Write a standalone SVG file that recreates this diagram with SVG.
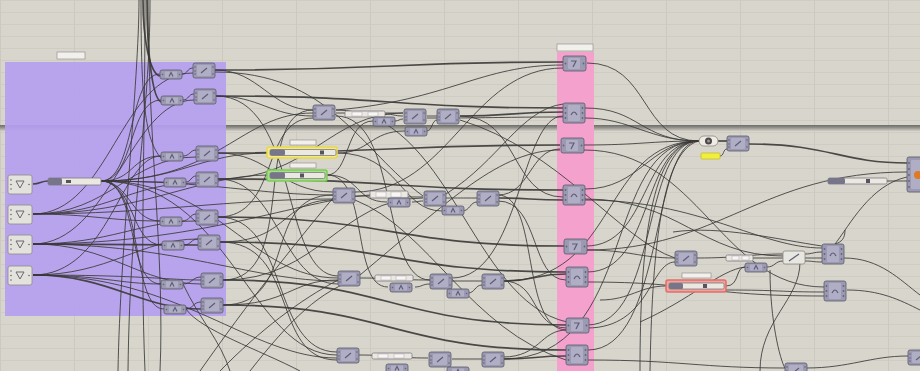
<svg xmlns="http://www.w3.org/2000/svg" xmlns:xlink="http://www.w3.org/1999/xlink" width="920" height="371" viewBox="0 0 920 371">
<style>
.w{fill:none;stroke:#3a3836;stroke-width:1;opacity:.85}
.wt{fill:none;stroke:#3a3836;stroke-width:1.7;opacity:.9}
.nb{fill:#9c9ab2;stroke:#5b5968;stroke-width:.8}
.ni{fill:#b0aec4;stroke:none}
.ic{fill:none;stroke:#5e5c78;stroke-width:1.2}
.pd{fill:#66647a}
.inp{fill:#e4e2dc;stroke:#8e8c86;stroke-width:.8}
.sl{fill:#ebe8e2;stroke:#7c7a80;stroke-width:.8}
.sll{fill:#77758a}
.lab{fill:#f2f0ec;stroke:#8a8882;stroke-width:.6}
</style>
<defs>
<pattern id="grid" width="74" height="12" patternUnits="userSpaceOnUse">
<rect width="74" height="12" fill="#d8d5cd"/>
<path d="M0,0.5 H74" stroke="#cfccc4" stroke-width="1"/>
<path d="M0.5,0 V12" stroke="#ccc9c1" stroke-width="1"/>
</pattern>
<linearGradient id="band" x1="0" y1="0" x2="0" y2="1">
<stop offset="0" stop-color="#6e6c68"/>
<stop offset="0.4" stop-color="#8f8d88"/>
<stop offset="1" stop-color="#cfccc4"/>
</linearGradient>
<g id="big"><rect width="22" height="15" rx="2" class="nb"/><rect x="4" y="2" width="14" height="11" rx="1" class="ni"/><path d="M8,10 L14,5" class="ic"/><circle cx="2" cy="4" r=".8" class="pd"/><circle cx="2" cy="8" r=".8" class="pd"/><circle cx="2" cy="11" r=".8" class="pd"/><circle cx="20" cy="4" r=".8" class="pd"/><circle cx="20" cy="11" r=".8" class="pd"/></g>
<g id="small"><rect width="22" height="9" rx="2" class="nb"/><rect x="5" y="1.5" width="12" height="6" class="ni"/><path d="M9,6.5 L11,2.5 L13,6.5" class="ic"/><circle cx="2.5" cy="4.5" r=".8" class="pd"/><circle cx="19.5" cy="4.5" r=".8" class="pd"/></g>
<g id="tall"><rect width="22" height="20" rx="2" class="nb"/><rect x="5" y="2" width="12" height="16" rx="1" class="ni"/><path d="M8,12 Q11,6 14,12" class="ic"/><circle cx="2.5" cy="5" r=".9" class="pd"/><circle cx="2.5" cy="10" r=".9" class="pd"/><circle cx="2.5" cy="15" r=".9" class="pd"/><circle cx="19.5" cy="5" r=".9" class="pd"/><circle cx="19.5" cy="10" r=".9" class="pd"/><circle cx="19.5" cy="15" r=".9" class="pd"/></g>
<g id="seven"><rect width="23" height="15" rx="2" class="nb"/><rect x="5" y="2" width="12" height="11" rx="1" class="ni"/><path d="M8,5 H13 L10,11" class="ic"/><circle cx="2.5" cy="7.5" r=".9" class="pd"/><circle cx="20.5" cy="7.5" r=".9" class="pd"/></g>
<g id="inp"><rect width="24" height="19" rx="2" class="inp"/><path d="M8,6 H16 L12,13 Z" fill="none" stroke="#6a6870" stroke-width="1"/><circle cx="3" cy="5" r=".8" class="pd"/><circle cx="3" cy="9.5" r=".8" class="pd"/><circle cx="3" cy="14" r=".8" class="pd"/><circle cx="21" cy="9.5" r=".8" class="pd"/></g>
</defs>

<rect width="920" height="371" fill="url(#grid)"/>
<rect x="0" y="125" width="920" height="6" fill="url(#band)"/>

<g id="group-purple">
<rect x="5" y="62" width="221" height="254" fill="#b59ff0" opacity=".92"/>
<rect x="57" y="52" width="28" height="7" class="lab"/>
</g>
<g id="group-pink">
<rect x="557" y="52" width="37" height="319" fill="#f4a2cd"/>
<rect x="557" y="44" width="36" height="7" class="lab"/>
</g>

<g id="connectors">
<path class="wt" d="M33,184 C40,184 41,181 48,181"/>
<path class="w" d="M101,181 C135,181 128,74 160,74"/>
<path class="w" d="M101,181 C135,181 128,100 161,100"/>
<path class="w" d="M101,181 C135,181 130,156 161,156"/>
<path class="w" d="M101,181 C130,181 135,182 164,182"/>
<path class="w" d="M101,181 C130,181 130,221 160,221"/>
<path class="w" d="M101,181 C135,181 130,245 162,245"/>
<path class="w" d="M101,181 C140,181 125,284 161,284"/>
<path class="w" d="M101,181 C145,181 130,309 164,309"/>
<path class="w" d="M101,181 C220,181 240,113 313,113"/>
<path class="w" d="M101,181 C210,181 260,195 333,195"/>
<path class="w" d="M101,181 C220,181 250,278 338,278"/>
<path class="w" d="M101,181 C230,181 250,355 337,355"/>
<path class="w" d="M101,181 C180,181 200,153 268,153"/>
<path class="w" d="M33,214 C110,214 120,73 193,73"/>
<path class="w" d="M33,214 C110,214 130,157 196,157"/>
<path class="w" d="M33,214 C90,214 110,221 160,221"/>
<path class="w" d="M33,214 C110,214 130,183 196,183"/>
<path class="w" d="M33,214 C150,214 230,199 333,199"/>
<path class="w" d="M33,214 C140,214 200,175 268,175"/>
<path class="wt" d="M33,244 C100,244 140,245 198,245"/>
<path class="w" d="M33,244 C110,244 130,100 194,100"/>
<path class="w" d="M33,244 C110,244 140,284 201,284"/>
<path class="w" d="M33,244 C110,244 140,221 196,221"/>
<path class="w" d="M33,244 C180,244 250,281 338,281"/>
<path class="w" d="M33,244 C200,244 300,200 370,195"/>
<path class="wt" d="M33,275 C110,275 140,309 201,309"/>
<path class="w" d="M33,275 C100,275 120,284 161,284"/>
<path class="w" d="M33,275 C110,275 140,239 198,239"/>
<path class="w" d="M33,275 C110,275 120,156 161,156"/>
<path class="w" d="M33,275 C180,275 250,358 337,358"/>
<path class="w" d="M33,275 C140,275 170,280 201,280"/>
<path class="w" d="M182,74 C188,74 187,68 193,68"/>
<path class="w" d="M183,100 C189,100 188,94 194,94"/>
<path class="w" d="M183,156 C190,156 190,150 196,150"/>
<path class="w" d="M186,182 C191,182 191,176 196,176"/>
<path class="w" d="M182,221 C190,221 190,214 196,214"/>
<path class="w" d="M184,245 C191,245 191,239 198,239"/>
<path class="w" d="M183,284 C192,284 192,277 201,277"/>
<path class="w" d="M186,309 C193,309 193,302 201,302"/>
<path class="wt" d="M143,0 C143,40 150,74 160,76"/>
<path class="wt" d="M147,0 C147,50 152,98 161,102"/>
<path class="w" d="M141,0 C141,100 145,140 161,158"/>
<path class="w" d="M150,0 C150,120 130,200 128,371"/>
<path class="w" d="M145,0 C145,150 140,250 145,371"/>
<path class="w" d="M139,0 C139,80 120,250 118,371"/>
<path class="w" d="M148,0 C148,140 165,260 160,371"/>
<path class="wt" d="M215,70 C390,70 390,62 563,62"/>
<path class="w" d="M215,70 C260,70 270,110 313,110"/>
<path class="w" d="M215,72 C330,72 360,150 423,196"/>
<path class="wt" d="M216,96 C390,96 390,108 563,108"/>
<path class="w" d="M216,96 C260,96 270,116 313,116"/>
<path class="w" d="M216,96 C300,96 280,276 338,276"/>
<path class="wt" d="M218,153 C390,153 390,145 560,145"/>
<path class="w" d="M218,153 C270,153 280,192 333,192"/>
<path class="wt" d="M218,179 C390,179 390,190 563,190"/>
<path class="w" d="M218,179 C280,179 280,284 338,284"/>
<path class="w" d="M218,179 C310,179 330,113 403,113"/>
<path class="wt" d="M218,217 C390,217 390,246 564,246"/>
<path class="w" d="M218,217 C290,217 270,352 337,352"/>
<path class="w" d="M218,217 C280,217 260,118 313,118"/>
<path class="wt" d="M220,242 C390,242 390,272 566,272"/>
<path class="w" d="M220,242 C290,242 280,200 333,200"/>
<path class="w" d="M220,242 C300,242 270,360 337,360"/>
<path class="wt" d="M223,280 C390,280 390,325 567,325"/>
<path class="w" d="M223,280 C300,280 250,110 313,110"/>
<path class="w" d="M223,280 C320,280 340,198 423,198"/>
<path class="wt" d="M223,305 C390,305 390,350 566,350"/>
<path class="w" d="M223,305 C290,305 290,280 338,280"/>
<path class="w" d="M223,305 C300,305 260,195 333,195"/>
<path class="w" d="M183,284 C200,320 220,340 230,371"/>
<path class="w" d="M186,309 C200,330 260,350 300,371"/>
<path class="w" d="M220,371 C260,330 300,300 338,280"/>
<path class="w" d="M250,371 C290,320 320,290 360,278"/>
<path class="w" d="M200,371 C250,300 290,250 333,198"/>
<path class="w" d="M336,113 C370,113 370,113 403,113"/>
<path class="w" d="M385,114 C394,114 394,116 403,116"/>
<path class="w" d="M395,121 C399,121 399,119 403,119"/>
<path class="w" d="M427,116 C432,116 432,116 437,116"/>
<path class="w" d="M427,131 C432,131 432,120 437,120"/>
<path class="wt" d="M460,116 C510,116 510,112 563,112"/>
<path class="w" d="M460,116 C520,116 510,197 563,197"/>
<path class="w" d="M427,118 C500,118 500,117 563,117"/>
<path class="w" d="M336,110 C450,100 480,65 563,65"/>
<path class="w" d="M336,116 C400,116 380,280 430,280"/>
<path class="w" d="M460,120 C560,150 620,240 675,258"/>
<path class="w" d="M337,153 C370,153 370,131 405,131"/>
<path class="w" d="M337,153 C400,153 400,211 442,211"/>
<path class="w" d="M327,175 C360,175 355,202 387,202"/>
<path class="w" d="M327,175 C370,175 350,287 388,287"/>
<path class="w" d="M327,175 C350,175 345,121 373,121"/>
<path class="w" d="M355,196 C390,196 390,197 423,197"/>
<path class="w" d="M412,202 C418,202 418,201 423,201"/>
<path class="w" d="M446,198 C460,198 460,198 477,198"/>
<path class="w" d="M462,211 C470,211 470,202 477,202"/>
<path class="wt" d="M498,198 C530,198 530,200 563,200"/>
<path class="w" d="M498,195 C530,195 530,149 560,149"/>
<path class="w" d="M498,201 C540,201 530,280 566,280"/>
<path class="w" d="M498,195 C540,195 520,330 567,330"/>
<path class="w" d="M360,278 C395,278 395,280 430,280"/>
<path class="w" d="M415,287 C422,287 422,284 430,284"/>
<path class="w" d="M452,281 C467,281 467,281 482,281"/>
<path class="w" d="M468,293 C475,293 475,285 482,285"/>
<path class="wt" d="M503,281 C535,281 535,274 566,274"/>
<path class="w" d="M503,281 C540,281 530,328 567,328"/>
<path class="w" d="M503,281 C620,281 600,141 699,141"/>
<path class="w" d="M452,278 C520,278 520,116 563,116"/>
<path class="w" d="M358,355 C393,355 393,358 428,358"/>
<path class="w" d="M452,359 C467,359 467,359 482,359"/>
<path class="wt" d="M503,359 C535,359 535,356 566,356"/>
<path class="w" d="M503,359 C640,359 600,141 699,141"/>
<path class="w" d="M503,357 C540,357 540,330 567,330"/>
<path class="w" d="M355,192 C450,192 470,68 563,68"/>
<path class="w" d="M360,275 C450,200 500,150 560,150"/>
<path class="w" d="M336,110 C450,110 470,300 567,322"/>
<path class="w" d="M355,200 C430,230 470,330 566,360"/>
<path class="w" d="M446,194 C500,160 520,110 563,104"/>
<path class="w" d="M587,63 C650,63 640,141 699,141"/>
<path class="w" d="M585,108 C640,108 640,141 699,141"/>
<path class="w" d="M585,118 C630,118 650,141 699,141"/>
<path class="w" d="M584,145 C640,145 650,141 699,141"/>
<path class="w" d="M585,189 C640,189 650,141 699,141"/>
<path class="w" d="M586,246 C650,246 640,141 699,141"/>
<path class="w" d="M587,272 C655,272 640,141 699,141"/>
<path class="w" d="M587,325 C660,325 640,141 699,141"/>
<path class="w" d="M588,350 C665,350 650,141 699,141"/>
<path class="w" d="M640,371 C640,250 650,141 699,141"/>
<path class="w" d="M650,371 C652,260 660,150 699,141"/>
<path class="w" d="M584,150 C700,150 720,287 824,287"/>
<path class="w" d="M585,199 C680,199 700,256 783,256"/>
<path class="w" d="M585,200 C700,200 760,248 822,248"/>
<path class="w" d="M586,250 C630,250 640,258 675,258"/>
<path class="w" d="M586,250 C720,250 760,172 907,172"/>
<path class="w" d="M587,282 C700,282 700,296 824,296"/>
<path class="w" d="M587,328 C650,328 650,262 675,262"/>
<path class="w" d="M588,360 C680,360 700,368 785,368"/>
<path class="wt" d="M718,141 C722,141 722,141 727,141"/>
<path class="w" d="M720,156 C724,156 723,149 727,149"/>
<path class="wt" d="M749,144 C830,144 840,163 907,163"/>
<path class="w" d="M887,181 C897,181 897,181 907,181"/>
<path class="w" d="M835,244 C850,225 870,185 907,177"/>
<path class="w" d="M697,258 C740,258 750,254 783,254"/>
<path class="w" d="M753,258 C768,258 768,258 783,258"/>
<path class="w" d="M767,267 C775,267 775,261 783,261"/>
<path class="w" d="M805,254 C813,254 813,252 822,252"/>
<path class="w" d="M805,258 C813,258 813,258 822,258"/>
<path class="w" d="M805,261 C813,261 813,262 822,262"/>
<path class="w" d="M726,286 C740,286 735,267 745,267"/>
<path class="w" d="M726,290 C780,290 780,292 824,292"/>
<path class="w" d="M600,300 C630,300 640,286 666,286"/>
<path class="w" d="M640,322 C690,300 720,270 745,267"/>
<path class="w" d="M844,258 C880,258 900,280 920,295"/>
<path class="w" d="M847,290 C880,290 900,300 920,310"/>
<path class="w" d="M845,230 C845,238 842,242 835,244"/>
<path class="w" d="M673,232 C720,225 780,240 822,246"/>
<path class="w" d="M800,262 C800,300 760,320 760,371"/>
<path class="w" d="M770,270 C770,320 780,360 785,368"/>
<path class="w" d="M806,368 C850,368 870,356 908,356"/>
<path class="w" d="M925,174 C930,174 930,174 935,174"/>
</g>

<g id="inputs">
<g id="in1" transform="translate(8,175)"><use href="#inp"/></g>
<g id="in2" transform="translate(8,205)"><use href="#inp"/></g>
<g id="in3" transform="translate(8,235)"><use href="#inp"/></g>
<g id="in4" transform="translate(8,266)"><use href="#inp"/></g>
<g id="slider0"><rect x="48" y="178" width="53" height="7" rx="1.5" class="sl"/><rect x="48" y="178" width="14" height="7" rx="1.5" class="sll"/><rect x="66" y="180" width="5" height="3" fill="#55535e"/></g>
</g>

<g id="column-nodes">
<g id="c1s" transform="translate(160,70)"><use href="#small"/></g>
<g id="c1b" transform="translate(193,63)"><use href="#big"/></g>
<g id="c2s" transform="translate(161,96)"><use href="#small"/></g>
<g id="c2b" transform="translate(194,89)"><use href="#big"/></g>
<g id="c3s" transform="translate(161,152)"><use href="#small"/></g>
<g id="c3b" transform="translate(196,146)"><use href="#big"/></g>
<g id="c4s" transform="translate(164,178)"><use href="#small"/></g>
<g id="c4b" transform="translate(196,172)"><use href="#big"/></g>
<g id="c5s" transform="translate(160,217)"><use href="#small"/></g>
<g id="c5b" transform="translate(196,210)"><use href="#big"/></g>
<g id="c6s" transform="translate(162,241)"><use href="#small"/></g>
<g id="c6b" transform="translate(198,235)"><use href="#big"/></g>
<g id="c7s" transform="translate(161,280)"><use href="#small"/></g>
<g id="c7b" transform="translate(201,273)"><use href="#big"/></g>
<g id="c8s" transform="translate(164,305)"><use href="#small"/></g>
<g id="c8b" transform="translate(201,298)"><use href="#big"/></g>
</g>

<g id="row-a">
<g id="a1" transform="translate(313,105)"><use href="#big"/></g>
<g id="a-slider"><rect x="345" y="111" width="40" height="6" rx="1.5" class="sl"/><rect x="352" y="112" width="10" height="4" fill="#f8f6f2" stroke="#9a98a0" stroke-width=".4"/><rect x="368" y="112" width="10" height="4" fill="#f8f6f2" stroke="#9a98a0" stroke-width=".4"/></g>
<g id="a2" transform="translate(373,117)"><use href="#small"/></g>
<g id="a3" transform="translate(404,109)"><use href="#big"/></g>
<g id="a4" transform="translate(437,109)"><use href="#big"/></g>
<g id="a5" transform="translate(405,127)"><use href="#small"/></g>
</g>

<g id="yellow-slider">
<rect x="290" y="140" width="26" height="5" class="lab"/>
<rect x="267" y="147" width="70" height="11" rx="2" fill="#f3e88a" stroke="#e8d94e" stroke-width="1.5"/>
<rect x="270" y="149.5" width="66" height="6" rx="1.5" class="sl"/>
<rect x="270" y="149.5" width="15" height="6" rx="1.5" class="sll"/>
<rect x="320" y="150.5" width="4" height="4" fill="#55535e"/>
</g>
<g id="green-slider">
<rect x="290" y="163" width="26" height="5" class="lab"/>
<rect x="267" y="170" width="60" height="11" rx="2" fill="#a6df8a" stroke="#7ccb58" stroke-width="1.5"/>
<rect x="270" y="172.5" width="55" height="6" rx="1.5" class="sl"/>
<rect x="270" y="172.5" width="15" height="6" rx="1.5" class="sll"/>
<rect x="300" y="173.5" width="4" height="4" fill="#55535e"/>
</g>

<g id="row-b">
<g id="b1" transform="translate(333,188)"><use href="#big"/></g>
<g id="b-slider"><rect x="370" y="191" width="38" height="7" rx="1.5" class="sl"/><rect x="376" y="192" width="10" height="5" fill="#f8f6f2" stroke="#9a98a0" stroke-width=".4"/><rect x="391" y="192" width="10" height="5" fill="#f8f6f2" stroke="#9a98a0" stroke-width=".4"/></g>
<g id="b2" transform="translate(388,198)"><use href="#small"/></g>
<g id="b3" transform="translate(424,191)"><use href="#big"/></g>
<g id="b4" transform="translate(477,191)"><use href="#big"/></g>
<g id="b5" transform="translate(442,206)"><use href="#small"/></g>
</g>

<g id="row-c">
<g id="cc1" transform="translate(338,271)"><use href="#big"/></g>
<g id="c-slider"><rect x="375" y="275" width="38" height="6" rx="1.5" class="sl"/><rect x="381" y="276" width="10" height="4" fill="#f8f6f2" stroke="#9a98a0" stroke-width=".4"/><rect x="396" y="276" width="10" height="4" fill="#f8f6f2" stroke="#9a98a0" stroke-width=".4"/></g>
<g id="cc2" transform="translate(390,283)"><use href="#small"/></g>
<g id="cc3" transform="translate(430,274)"><use href="#big"/></g>
<g id="cc4" transform="translate(447,289)"><use href="#small"/></g>
<g id="cc5" transform="translate(482,274)"><use href="#big"/></g>
</g>

<g id="row-d">
<g id="d1" transform="translate(337,348)"><use href="#big"/></g>
<g id="d-slider"><rect x="372" y="353" width="40" height="6" rx="1.5" class="sl"/><rect x="378" y="354" width="10" height="4" fill="#f8f6f2" stroke="#9a98a0" stroke-width=".4"/><rect x="394" y="354" width="10" height="4" fill="#f8f6f2" stroke="#9a98a0" stroke-width=".4"/></g>
<g id="d2" transform="translate(386,364)"><use href="#small"/></g>
<g id="d3" transform="translate(429,352)"><use href="#big"/></g>
<g id="d4" transform="translate(447,367)"><use href="#small"/></g>
<g id="d5" transform="translate(482,352)"><use href="#big"/></g>
</g>

<g id="pink-nodes">
<g id="p1" transform="translate(563,56)"><use href="#seven"/></g>
<g id="p2" transform="translate(563,103)"><use href="#tall"/></g>
<g id="p3" transform="translate(561,138)"><use href="#seven"/></g>
<g id="p4" transform="translate(563,185)"><use href="#tall"/></g>
<g id="p5" transform="translate(564,239)"><use href="#seven"/></g>
<g id="p6" transform="translate(566,267)"><use href="#tall"/></g>
<g id="p7" transform="translate(566,318)"><use href="#seven"/></g>
<g id="p8" transform="translate(566,345)"><use href="#tall"/></g>
</g>

<g id="right-nodes">
<g id="o-node"><rect x="699" y="136" width="19" height="10" rx="5" fill="#efece6" stroke="#8a8882" stroke-width=".8"/><circle cx="708.5" cy="141" r="3.5" fill="#4a4848"/><circle cx="708.5" cy="141" r="1.5" fill="#9a9898"/></g>
<g id="r1" transform="translate(727,136)"><use href="#big"/></g>
<g id="yellow-panel"><rect x="701" y="153" width="19" height="6" rx="1" fill="#f2ee3e" stroke="#c4bc2a" stroke-width=".8"/></g>
<g id="slider5"><rect x="828" y="178" width="59" height="6" rx="1.5" class="sl"/><rect x="828" y="178" width="17" height="6" rx="1.5" class="sll"/><rect x="866" y="179" width="4" height="4" fill="#55535e"/></g>
<g id="rb"><rect x="907" y="157" width="22" height="35" rx="2" class="nb"/><rect x="911" y="160" width="14" height="29" rx="1" class="ni"/><circle cx="918" cy="175" r="4" fill="#e07a22"/><circle cx="909" cy="163" r=".9" class="pd"/><circle cx="909" cy="169" r=".9" class="pd"/><circle cx="909" cy="175" r=".9" class="pd"/><circle cx="909" cy="181" r=".9" class="pd"/><circle cx="909" cy="187" r=".9" class="pd"/></g>
<g id="q1" transform="translate(675,251)"><use href="#big"/></g>
<g id="slider6"><rect x="726" y="255" width="27" height="6" rx="1.5" class="sl"/><rect x="732" y="256" width="7" height="4" fill="#f8f6f2" stroke="#9a98a0" stroke-width=".4"/><rect x="742" y="256" width="7" height="4" fill="#f8f6f2" stroke="#9a98a0" stroke-width=".4"/></g>
<g id="q2" transform="translate(745,263)"><use href="#small"/></g>
<g id="wnode"><rect x="783" y="251" width="22" height="13" rx="2" fill="#e8e6e0" stroke="#8a8880" stroke-width=".8"/><path d="M789,261 L799,254" class="ic"/></g>
<g id="t1" transform="translate(822,244)"><use href="#tall"/></g>
<g id="t2" transform="translate(824,281)"><use href="#tall"/></g>
<g id="red-slider">
<rect x="682" y="273" width="29" height="5" class="lab"/>
<rect x="666" y="280" width="60" height="12" rx="2" fill="#f0a29c" stroke="#e06f68" stroke-width="1.5"/>
<rect x="669" y="283" width="55" height="6" rx="1.5" class="sl"/>
<rect x="669" y="283" width="14" height="6" rx="1.5" class="sll"/>
<rect x="703" y="284" width="4" height="4" fill="#55535e"/>
</g>
<g id="bn1" transform="translate(785,363)"><use href="#big"/></g>
<g id="bn2" transform="translate(908,350)"><use href="#big"/></g>
</g>
</svg>
